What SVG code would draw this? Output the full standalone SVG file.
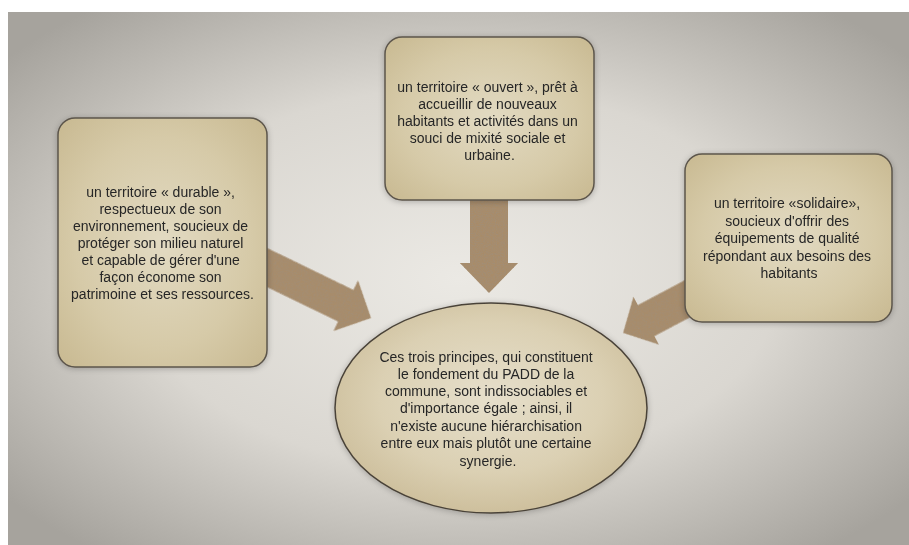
<svg xmlns="http://www.w3.org/2000/svg" width="909" height="545" viewBox="0 0 909 545">
  <defs>
    <radialGradient id="bg" cx="0.5" cy="0.5" r="0.65">
      <stop offset="0" stop-color="#ebe9e4"/>
      <stop offset="0.55" stop-color="#dad7d1"/>
      <stop offset="1" stop-color="#a6a39d"/>
    </radialGradient>
    <radialGradient id="boxFill" cx="0.5" cy="0.5" r="0.7">
      <stop offset="0" stop-color="#e2dac2"/>
      <stop offset="0.6" stop-color="#d6caa8"/>
      <stop offset="1" stop-color="#c8b991"/>
    </radialGradient>
    <radialGradient id="ellFill" cx="0.5" cy="0.45" r="0.6">
      <stop offset="0" stop-color="#e6dfcb"/>
      <stop offset="0.6" stop-color="#dbd0b3"/>
      <stop offset="1" stop-color="#cabb97"/>
    </radialGradient>
    <filter id="grain" x="-10%" y="-10%" width="120%" height="120%">
      <feTurbulence type="fractalNoise" baseFrequency="0.9" numOctaves="2" seed="4" result="n"/>
      <feColorMatrix in="n" type="matrix" values="0 0 0 0 0.36  0 0 0 0 0.27  0 0 0 0 0.18  0 0 0 2.4 -0.9" result="dots"/>
      <feComposite in="dots" in2="SourceGraphic" operator="in" result="d2"/>
      <feMerge><feMergeNode in="SourceGraphic"/><feMergeNode in="d2"/></feMerge>
    </filter>
    <filter id="soft" x="-10%" y="-10%" width="120%" height="120%">
      <feGaussianBlur in="SourceAlpha" stdDeviation="3"/>
      <feOffset dx="0" dy="1" result="b"/>
      <feComponentTransfer><feFuncA type="linear" slope="0.25"/></feComponentTransfer>
      <feMerge><feMergeNode/><feMergeNode in="SourceGraphic"/></feMerge>
    </filter>
  </defs>
  <style>
    .box { fill: url(#boxFill); stroke: #5c554b; stroke-width: 1.5; }
    .ell { fill: url(#ellFill); stroke: #4a4339; stroke-width: 1.5; }
    .arrow { fill: #a88c6a; filter: url(#grain); }
    .t { font-family: "Liberation Sans", Arial, sans-serif; font-size: 14px; fill: #262626; text-anchor: middle; }
  </style>

  <rect x="0" y="0" width="909" height="545" fill="#ffffff"/>
  <rect x="8" y="12" width="901" height="533" fill="url(#bg)"/>

  <g id="connectors">
    <path class="arrow" transform="translate(267,267.5) rotate(25.9)" d="M -15,-17.5 L 87.6,-17.5 L 87.6,-28 L 115.6,0 L 87.6,28 L 87.6,17.5 L -15,17.5 Z"/>
    <path class="arrow" transform="translate(489,200) rotate(90)" d="M -15,-19 L 63,-19 L 63,-29 L 93,0 L 63,29 L 63,19 L -15,19 Z"/>
    <path class="arrow" transform="translate(685,300) rotate(152)" d="M -15,-17.5 L 44,-17.5 L 44,-27 L 70,0 L 44,27 L 44,17.5 L -15,17.5 Z"/>
  </g>

  <g id="durable" filter="url(#soft)">
    <rect class="box" x="58" y="118" width="209" height="249" rx="17"/>
    <text class="t">
      <tspan x="162.5" y="197">un territoire « durable »,</tspan>
      <tspan x="162.5" y="214">respectueux de son</tspan>
      <tspan x="162.5" y="231">environnement, soucieux de</tspan>
      <tspan x="162.5" y="248">protéger son milieu naturel</tspan>
      <tspan x="162.5" y="265">et capable de gérer d'une</tspan>
      <tspan x="162.5" y="282">façon économe son</tspan>
      <tspan x="162.5" y="299">patrimoine et ses ressources.</tspan>
    </text>
  </g>

  <g id="ouvert" filter="url(#soft)">
    <rect class="box" x="385" y="37" width="209" height="163" rx="17"/>
    <text class="t">
      <tspan x="489.5" y="92">un territoire « ouvert », prêt à</tspan>
      <tspan x="489.5" y="109">accueillir de nouveaux</tspan>
      <tspan x="489.5" y="126">habitants et activités dans un</tspan>
      <tspan x="489.5" y="143">souci de mixité sociale et</tspan>
      <tspan x="489.5" y="160">urbaine.</tspan>
    </text>
  </g>

  <g id="solidaire" filter="url(#soft)">
    <rect class="box" x="685" y="154" width="207" height="168" rx="17"/>
    <text class="t">
      <tspan x="789" y="208">un territoire «solidaire»,</tspan>
      <tspan x="789" y="226">soucieux d'offrir des</tspan>
      <tspan x="789" y="243">équipements de qualité</tspan>
      <tspan x="789" y="261">répondant aux besoins des</tspan>
      <tspan x="789" y="278">habitants</tspan>
    </text>
  </g>

  <g id="principes" filter="url(#soft)">
    <ellipse class="ell" cx="491" cy="408" rx="156" ry="105"/>
    <text class="t">
      <tspan x="488" y="362">Ces trois principes, qui constituent</tspan>
      <tspan x="488" y="379">le fondement du PADD de la</tspan>
      <tspan x="488" y="396">commune, sont indissociables et</tspan>
      <tspan x="488" y="413">d'importance égale ; ainsi, il</tspan>
      <tspan x="488" y="431">n'existe aucune hiérarchisation</tspan>
      <tspan x="488" y="448">entre eux mais plutôt une certaine</tspan>
      <tspan x="488" y="466">synergie.</tspan>
    </text>
  </g>
</svg>
